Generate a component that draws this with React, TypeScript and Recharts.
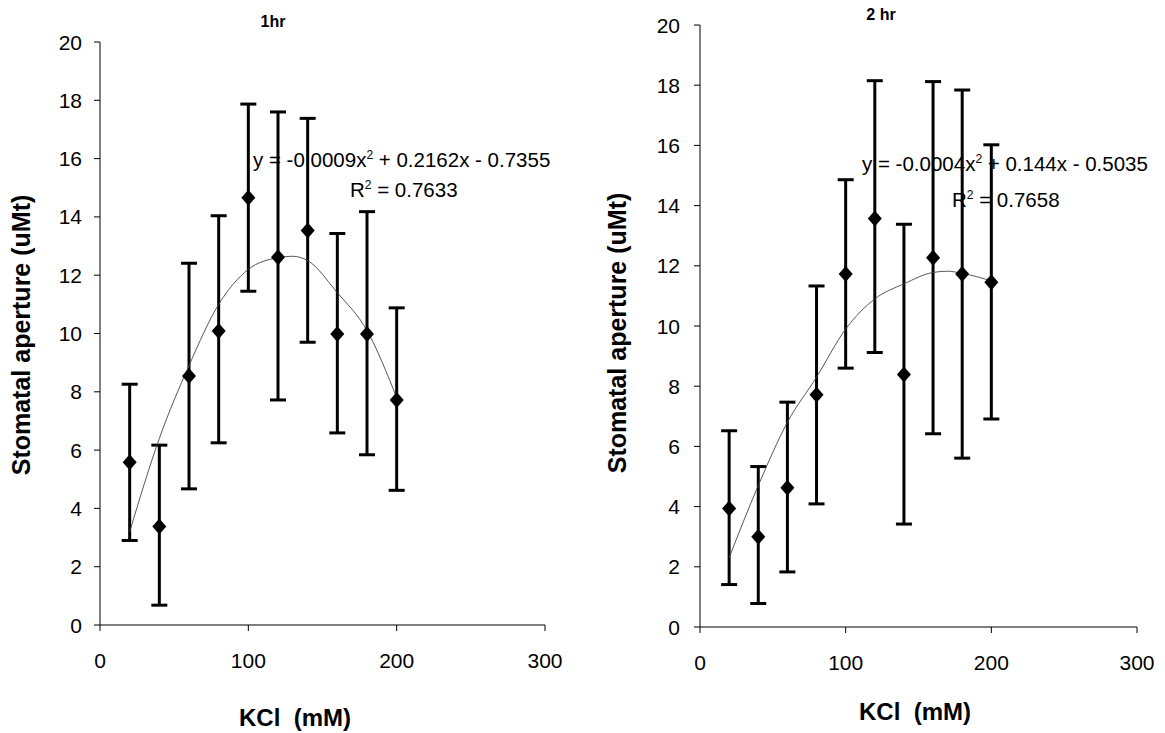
import React from "react"
import { ComposedChart, Scatter, ErrorBar, XAxis, YAxis } from "recharts"

// KCl concentrations (mM)
const kcl = [20, 40, 60, 80, 100, 120, 140, 160, 180, 200]

// 1 hr: mean aperture and error bar ends
const mean1hr = [5.58, 3.38, 8.54, 10.09, 14.66, 12.62, 13.53, 9.98, 9.98, 7.72]
const upper1hr = [8.26, 6.17, 12.41, 14.04, 17.87, 17.6, 17.38, 13.43, 14.18, 10.88]
const lower1hr = [2.9, 0.68, 4.67, 6.25, 11.45, 7.72, 9.7, 6.59, 5.84, 4.62]

// 2 hr
const mean2hr = [3.94, 3.0, 4.63, 7.72, 11.73, 13.57, 8.39, 12.27, 11.73, 11.45]
const upper2hr = [6.52, 5.33, 7.47, 11.33, 14.86, 18.15, 13.38, 18.12, 17.84, 16.02]
const lower2hr = [1.41, 0.78, 1.83, 4.09, 8.6, 9.12, 3.42, 6.42, 5.61, 6.91]

// polynomial trendlines
const trend1hrX = [20, 40, 60, 80, 100, 120, 130, 140, 160, 180, 200]
const trend1hrY = [3.2, 6.4, 8.9, 11.0, 12.2, 12.6, 12.65, 12.5, 11.4, 10.1, 7.8]
const trend2hrX = [20, 40, 60, 80, 100, 120, 140, 160, 170, 180, 200]
const trend2hrY = [2.3, 4.7, 6.8, 8.3, 9.9, 10.9, 11.4, 11.78, 11.82, 11.75, 11.5]

const xTicks = [0, 100, 200, 300]
const yTicks = [0, 2, 4, 6, 8, 10, 12, 14, 16, 18, 20]

const FONT = "'Liberation Sans', Arial, sans-serif"

const rows = (mean: number[], upper: number[], lower: number[]) =>
  kcl.map((x, i) => ({ x, y: mean[i], err: [mean[i] - lower[i], upper[i] - mean[i]] }))

const trendRows = (xs: number[], ys: number[]) => xs.map((x, i) => ({ x, y: ys[i] }))

const Diamond = (props: any) => {
  const { cx, cy } = props
  if (cx == null || cy == null) return <g />
  return <polygon points={`${cx},${cy - 8} ${cx + 7},${cy} ${cx},${cy + 8} ${cx - 7},${cy}`} fill="#000" />
}

const Nothing = () => <g />

const XTick = (props: any) => (
  <text x={props.x} y={props.y} dy="0.72em" textAnchor="middle" fontSize={21} fontFamily={FONT} fill="#000">
    {props.payload.value}
  </text>
)

const YTick = (props: any) => (
  <text x={props.x} y={props.y} dy="0.36em" textAnchor="end" fontSize={21} fontFamily={FONT} fill="#000">
    {props.payload.value}
  </text>
)

type PanelProps = {
  mean: number[]
  upper: number[]
  lower: number[]
  tx: number[]
  ty: number[]
  width: number
  margin: { top: number; right: number; left: number; bottom: number }
  tickGap: number
}

function Panel({ mean, upper, lower, tx, ty, width, margin, tickGap }: PanelProps) {
  return (
    <ComposedChart width={width} height={733} margin={margin}>
      <XAxis
        type="number"
        dataKey="x"
        domain={[0, 300]}
        ticks={xTicks}
        interval={0}
        tick={<XTick />}
        tickSize={6}
        tickMargin={22}
        stroke="#000"
        height={60}
      />
      <YAxis
        type="number"
        dataKey="y"
        domain={[0, 20]}
        ticks={yTicks}
        interval={0}
        tick={<YTick />}
        tickSize={6}
        tickMargin={tickGap}
        stroke="#000"
        width={60}
      />
      <Scatter
        data={trendRows(tx, ty)}
        line={{ stroke: "#444", strokeWidth: 0.9 }}
        lineJointType="monotoneX"
        shape={Nothing}
        isAnimationActive={false}
      />
      <Scatter data={rows(mean, upper, lower)} shape={Diamond} isAnimationActive={false}>
        <ErrorBar dataKey="err" direction="y" width={8} stroke="#000" strokeWidth={3} />
      </Scatter>
    </ComposedChart>
  )
}

export default function App() {
  return (
    <div style={{ position: "absolute", left: 0, top: 0, width: 1165, height: 733, background: "#fff" }}>
      <div style={{ position: "absolute", left: 0, top: 0 }}>
        <Panel
          mean={mean1hr}
          upper={upper1hr}
          lower={lower1hr}
          tx={trend1hrX}
          ty={trend1hrY}
          width={580}
          margin={{ top: 42, right: 35, left: 40, bottom: 48 }}
          tickGap={12}
        />
      </div>
      <div style={{ position: "absolute", left: 580, top: 0 }}>
        <Panel
          mean={mean2hr}
          upper={upper2hr}
          lower={lower2hr}
          tx={trend2hrX}
          ty={trend2hrY}
          width={585}
          margin={{ top: 25, right: 28, left: 60, bottom: 46 }}
          tickGap={14}
        />
      </div>
      <svg
        width={1165}
        height={733}
        style={{ position: "absolute", left: 0, top: 0, pointerEvents: "none" }}
        fontFamily={FONT}
      >
        <text x={273} y={27} textAnchor="middle" fontSize={16} fontWeight="bold">1hr</text>
        <text x={881} y={20} textAnchor="middle" fontSize={16} fontWeight="bold">2 hr</text>

        <text x={30} y={335} textAnchor="middle" fontSize={25} fontWeight="bold" transform="rotate(-90 30 335)">
          Stomatal aperture (uMt)
        </text>
        <text x={626} y={333} textAnchor="middle" fontSize={25} fontWeight="bold" transform="rotate(-90 626 333)">
          Stomatal aperture (uMt)
        </text>

        <text x={295} y={726} textAnchor="middle" fontSize={24} fontWeight="bold" xmlSpace="preserve">KCl  (mM)</text>
        <text x={915} y={720} textAnchor="middle" fontSize={24} fontWeight="bold" xmlSpace="preserve">KCl  (mM)</text>

        <text x={253} y={167} fontSize={20.5}>
          y = -0.0009x<tspan dy={-8} fontSize={12}>2</tspan>
          <tspan dy={8}> + 0.2162x - 0.7355</tspan>
        </text>
        <text x={350} y={197} fontSize={20.5}>
          R<tspan dy={-8} fontSize={12}>2</tspan>
          <tspan dy={8}> = 0.7633</tspan>
        </text>

        <text x={862} y={171} fontSize={20.5}>
          y = -0.0004x<tspan dy={-8} fontSize={12}>2</tspan>
          <tspan dy={8}> + 0.144x - 0.5035</tspan>
        </text>
        <text x={952} y={207} fontSize={20.5}>
          R<tspan dy={-8} fontSize={12}>2</tspan>
          <tspan dy={8}> = 0.7658</tspan>
        </text>
      </svg>
    </div>
  )
}
